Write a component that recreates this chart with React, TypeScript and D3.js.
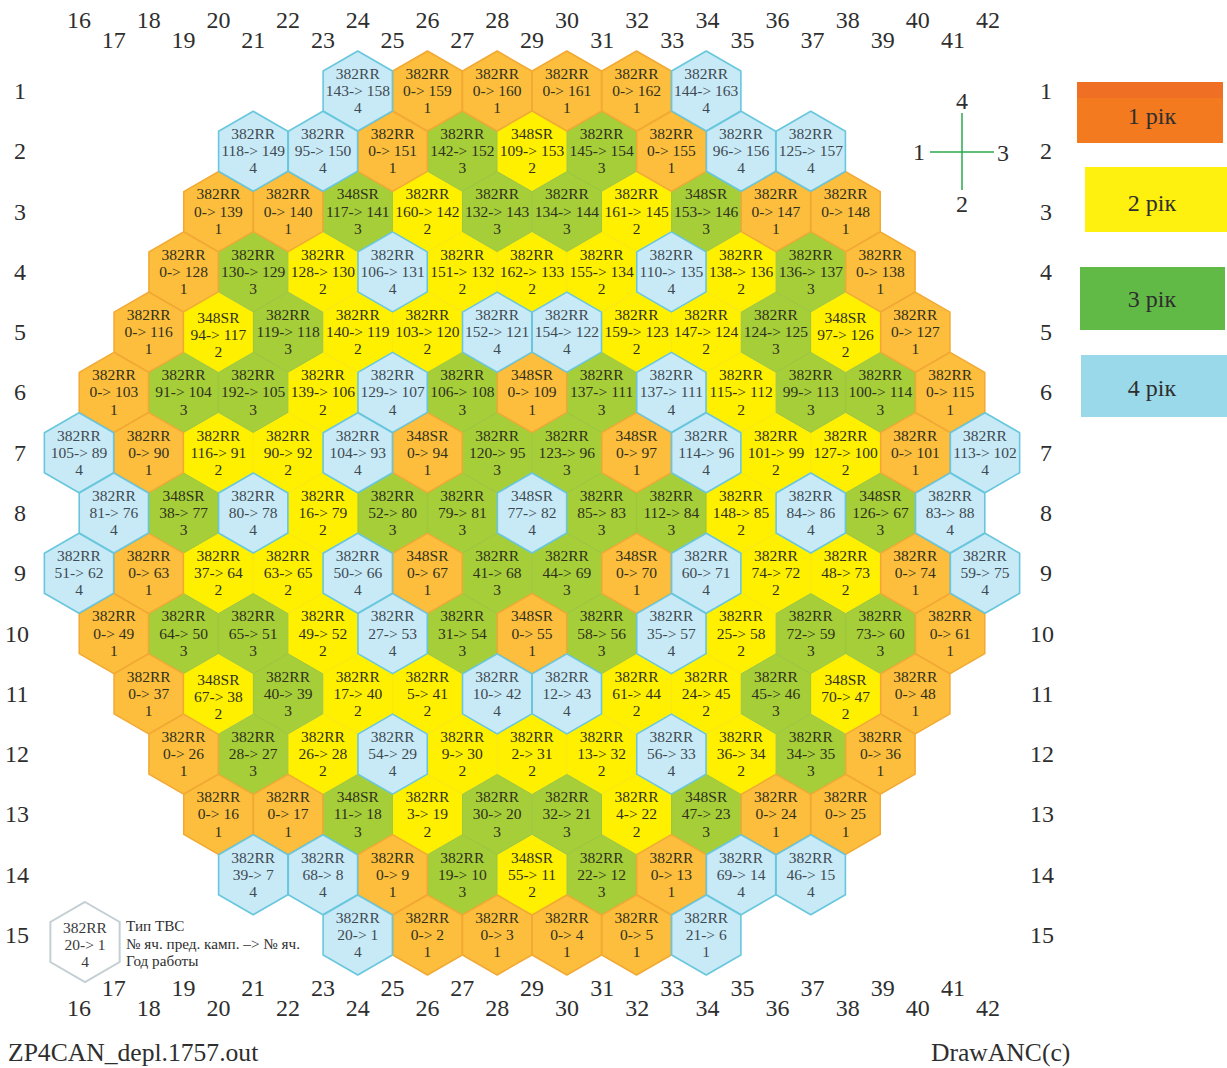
import React from "react";
import * as d3 from "d3";

const rowFrom: number[][] = [
  [143, 0, 0, 0, 0, 144],
  [118, 95, 0, 142, 109, 145, 0, 96, 125],
  [0, 0, 117, 160, 132, 134, 161, 153, 0, 0],
  [0, 130, 128, 106, 151, 162, 155, 110, 138, 136, 0],
  [0, 94, 119, 140, 103, 152, 154, 159, 147, 124, 97, 0],
  [0, 91, 192, 139, 129, 106, 0, 137, 137, 115, 99, 100, 0],
  [105, 0, 116, 90, 104, 0, 120, 123, 0, 114, 101, 127, 0, 113],
  [81, 38, 80, 16, 52, 79, 77, 85, 112, 148, 84, 126, 83],
  [51, 0, 37, 63, 50, 0, 41, 44, 0, 60, 74, 48, 0, 59],
  [0, 64, 65, 49, 27, 31, 0, 58, 35, 25, 72, 73, 0],
  [0, 67, 40, 17, 5, 10, 12, 61, 24, 45, 70, 0],
  [0, 28, 26, 54, 9, 2, 13, 56, 36, 34, 0],
  [0, 0, 11, 3, 30, 32, 4, 47, 0, 0],
  [39, 68, 0, 19, 55, 22, 0, 69, 46],
  [20, 0, 0, 0, 0, 21],
];
const rowTo: number[][] = [
  [158, 159, 160, 161, 162, 163],
  [149, 150, 151, 152, 153, 154, 155, 156, 157],
  [139, 140, 141, 142, 143, 144, 145, 146, 147, 148],
  [128, 129, 130, 131, 132, 133, 134, 135, 136, 137, 138],
  [116, 117, 118, 119, 120, 121, 122, 123, 124, 125, 126, 127],
  [103, 104, 105, 106, 107, 108, 109, 111, 111, 112, 113, 114, 115],
  [89, 90, 91, 92, 93, 94, 95, 96, 97, 96, 99, 100, 101, 102],
  [76, 77, 78, 79, 80, 81, 82, 83, 84, 85, 86, 67, 88],
  [62, 63, 64, 65, 66, 67, 68, 69, 70, 71, 72, 73, 74, 75],
  [49, 50, 51, 52, 53, 54, 55, 56, 57, 58, 59, 60, 61],
  [37, 38, 39, 40, 41, 42, 43, 44, 45, 46, 47, 48],
  [26, 27, 28, 29, 30, 31, 32, 33, 34, 35, 36],
  [16, 17, 18, 19, 20, 21, 22, 23, 24, 25],
  [7, 8, 9, 10, 11, 12, 13, 14, 15],
  [1, 2, 3, 4, 5, 6],
];
const rowYear: number[][] = [
  [4, 1, 1, 1, 1, 4],
  [4, 4, 1, 3, 2, 3, 1, 4, 4],
  [1, 1, 3, 2, 3, 3, 2, 3, 1, 1],
  [1, 3, 2, 4, 2, 2, 2, 4, 2, 3, 1],
  [1, 2, 3, 2, 2, 4, 4, 2, 2, 3, 2, 1],
  [1, 3, 3, 2, 4, 3, 1, 3, 4, 2, 3, 3, 1],
  [4, 1, 2, 2, 4, 1, 3, 3, 1, 4, 2, 2, 1, 4],
  [4, 3, 4, 2, 3, 3, 4, 3, 3, 2, 4, 3, 4],
  [4, 1, 2, 2, 4, 1, 3, 3, 1, 4, 2, 2, 1, 4],
  [1, 3, 3, 2, 4, 3, 1, 3, 4, 2, 3, 3, 1],
  [1, 2, 3, 2, 2, 4, 4, 2, 2, 3, 2, 1],
  [1, 3, 2, 4, 2, 2, 2, 4, 2, 3, 1],
  [1, 1, 3, 2, 3, 3, 2, 3, 1, 1],
  [4, 4, 1, 3, 2, 3, 1, 4, 4],
  [4, 1, 1, 1, 1, 4],
];
// target cell numbers holding a 348SR assembly
const sr348Cells = [153, 141, 146, 117, 126, 109, 94, 97, 77, 82, 67, 70, 55, 38, 47, 18, 23, 11];
// target cells whose printed year differs from their colour
const printedYearOverride: Record<number, number> = { 6: 1 };
const columnTicks = d3.range(16, 43);
const rowTicks = d3.range(1, 16);
const legendLabels = ["1 рік", "2 рік", "3 рік", "4 рік"];
const keyLines = ["Тип ТВС", "№ яч. пред. камп. –> № яч.", "Год работы"];

const FILL: Record<number, string> = { 1: "#fcbe3c", 2: "#fff000", 3: "#a5ce39", 4: "#c8e9f6" };
const STROKE: Record<number, string> = { 1: "#f2a934", 2: "#fbe80c", 3: "#9cc63c", 4: "#68c7dc" };
const WIDTH: Record<number, number> = { 1: 1.5, 2: 1, 3: 1, 4: 1.6 };
const LEG: string[] = ["#f47a20", "#fff10f", "#62ba46", "#9ad9e9"];
const LEG_BOX = [
  [1077, 82, 1223, 143],
  [1085, 167, 1227, 232],
  [1080, 267, 1225, 330],
  [1081, 355, 1227, 417],
];
const LEG_TEXT_NUDGE = [3, 3, 0, 2];
const SERIF = "'Liberation Serif', serif";
const INK = "#2e2e2e";

const x = d3.scaleLinear().domain([16, 42]).range([79, 985]);
const tickX = d3.scaleLinear().domain([16, 29, 42]).range([79, 532, 988]);
const y = d3.scaleLinear().domain([1, 15]).range([91, 935]);
const R = 40;
const hexPts = d3.range(6).map((i) => {
  const a = (Math.PI / 3) * i - Math.PI / 2;
  return [R * Math.cos(a), R * Math.sin(a)] as [number, number];
});
const hexPath = (d3.line()(hexPts) as string) + "Z";

interface Cell {
  key: string;
  col: number;
  row: number;
  from: number;
  to: number;
  year: number;
  type: string;
}
const cells: Cell[] = rowTo.flatMap((tos, r) =>
  tos.map((to, i) => ({
    key: `${r + 1}-${i}`,
    col: 29 + 2 * i - (tos.length - 1),
    row: r + 1,
    from: rowFrom[r][i],
    to,
    year: rowYear[r][i],
    type: sr348Cells.includes(to) ? "348SR" : "382RR",
  }))
);
const zOrder: Record<number, number> = { 2: 0, 3: 1, 1: 2, 4: 3 };
const ordered = [...cells].sort((a, b) => zOrder[a.year] - zOrder[b.year]);

function CellText({ lines, cx, cy, fill }: { lines: string[]; cx: number; cy: number; fill: string }) {
  return (
    <text textAnchor="middle" fontFamily={SERIF} fontSize={15.5} fill={fill}>
      {lines.map((t, i) => (
        <tspan key={i} x={cx} y={cy + (i - 1) * 17.2 + 5}>
          {t}
        </tspan>
      ))}
    </text>
  );
}

export default function App() {
  return (
    <svg
      width={1227}
      height={1068}
      viewBox="0 0 1227 1068"
      style={{ position: "absolute", left: 0, top: 0, display: "block", background: "#fff" }}
    >
      {ordered.map((c) => (
        <path
          key={c.key}
          d={hexPath}
          transform={`translate(${x(c.col)},${y(c.row)})`}
          fill={FILL[c.year]}
          stroke={STROKE[c.year]}
          strokeWidth={WIDTH[c.year]}
          strokeLinejoin="round"
        />
      ))}
      {cells.map((c) => (
        <CellText
          key={c.key}
          cx={x(c.col)}
          cy={y(c.row) + (c.type === "348SR" && [5, 11].includes(c.row) ? 3 : 0)}
          fill={c.year === 4 ? "#3e4a52" : "#30301c"}
          lines={[c.type, `${c.from}-> ${c.to}`, String(printedYearOverride[c.to] ?? c.year)]}
        />
      ))}

      {columnTicks.map((n) => (
        <g key={n} fontFamily={SERIF} fontSize={24} fill={INK} textAnchor="middle">
          <text x={tickX(n)} y={n % 2 === 0 ? 28 : 48}>
            {n}
          </text>
          <text x={tickX(n)} y={n % 2 === 0 ? 1016 : 996}>
            {n}
          </text>
        </g>
      ))}
      {rowTicks.map((n) => (
        <g key={n} fontFamily={SERIF} fontSize={24} fill={INK} textAnchor="middle">
          <text x={n < 10 ? 20 : 17} y={y(n) + 8}>
            {n}
          </text>
          <text x={n < 10 ? 1046 : 1042} y={y(n) + 8}>
            {n}
          </text>
        </g>
      ))}

      {legendLabels.map((t, i) => {
        const [x0, y0, x1, y1] = LEG_BOX[i];
        return (
          <g key={t}>
            <rect x={x0} y={y0} width={x1 - x0} height={y1 - y0} fill={LEG[i]} />
            {i === 0 && <rect x={x0} y={y0} width={x1 - x0} height={16} fill="#ef6f24" />}
            <text
              x={1152}
              y={(y0 + y1) / 2 + 8 + LEG_TEXT_NUDGE[i]}
              textAnchor="middle"
              fontFamily={SERIF}
              fontSize={24}
              fill={INK}
            >
              {t}
            </text>
          </g>
        );
      })}

      <g stroke="#2aa84a" strokeWidth={1.5}>
        <line x1={930} x2={994} y1={152} y2={152} />
        <line x1={962} x2={962} y1={113} y2={190} />
      </g>
      <g fontFamily={SERIF} fontSize={24} fill={INK} textAnchor="middle">
        <text x={962} y={109}>4</text>
        <text x={919} y={160}>1</text>
        <text x={1003} y={161}>3</text>
        <text x={962} y={212}>2</text>
      </g>

      <path d={hexPath} transform="translate(85,942)" fill="#fff" stroke="#c3cfd3" strokeWidth={2} />
      <CellText cx={85} cy={945} fill="#3a3a3a" lines={["382RR", "20-> 1", "4"]} />
      <text fontFamily={SERIF} fontSize={15.2} fill={INK}>
        {keyLines.map((t, i) => (
          <tspan key={t} x={126} y={931 + i * 17.5}>
            {t}
          </tspan>
        ))}
      </text>

      <text x={8} y={1061} fontFamily={SERIF} fontSize={25.6} fill={INK}>
        ZP4CAN_depl.1757.out
      </text>
      <text x={931} y={1061} fontFamily={SERIF} fontSize={25.6} fill={INK}>
        DrawANC(c)
      </text>
    </svg>
  );
}
